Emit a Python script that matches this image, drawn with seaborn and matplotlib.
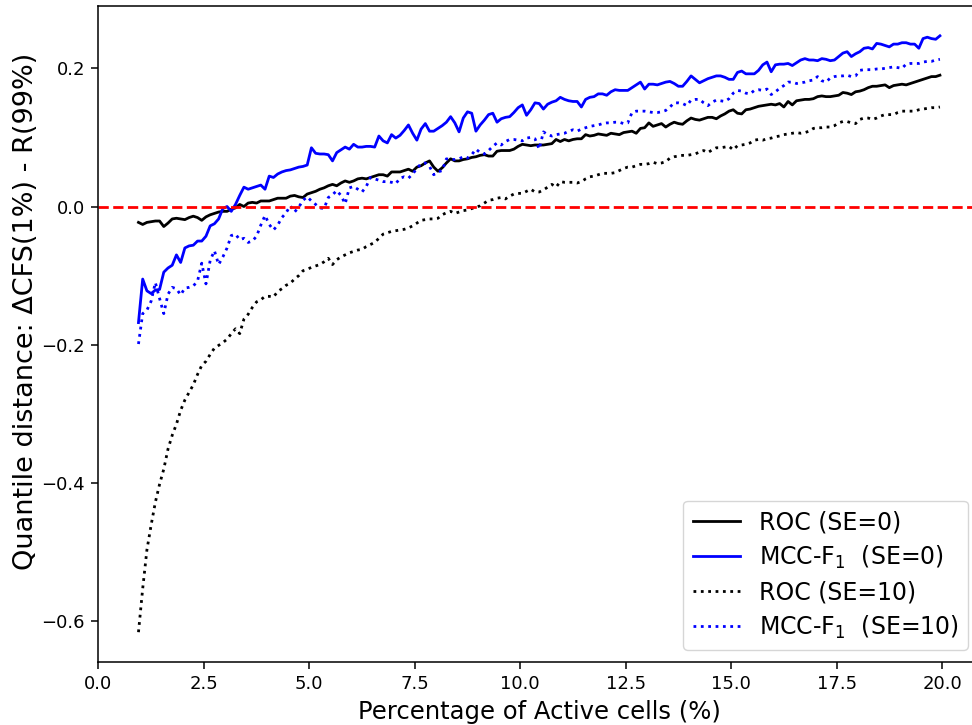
import numpy as np
import pandas as pd
import matplotlib
matplotlib.use("Agg")
import matplotlib.pyplot as plt
import seaborn as sns

# percentage of active cells, 0.95 .. 19.95 in steps of 0.1
pct = np.round(np.arange(95, 2000, 10) / 100, 2)

roc_se0 = [
    -0.023, -0.026, -0.023, -0.022, -0.021, -0.021, -0.029, -0.024, -0.018, -0.017,
    -0.018, -0.019, -0.016, -0.014, -0.016, -0.020, -0.015, -0.012, -0.010, -0.008,
    -0.007, -0.007, -0.004, -0.002, 0.003, 0.000, 0.005, 0.006, 0.005, 0.008,
    0.008, 0.008, 0.010, 0.012, 0.012, 0.012, 0.015, 0.016, 0.014, 0.013,
    0.018, 0.020, 0.022, 0.025, 0.027, 0.030, 0.032, 0.030, 0.034, 0.037,
    0.035, 0.037, 0.040, 0.041, 0.040, 0.042, 0.044, 0.046, 0.046, 0.044,
    0.050, 0.050, 0.050, 0.052, 0.054, 0.051, 0.057, 0.059, 0.063, 0.066,
    0.057, 0.051, 0.056, 0.063, 0.069, 0.066, 0.066, 0.068, 0.069, 0.071,
    0.072, 0.074, 0.075, 0.073, 0.073, 0.080, 0.081, 0.081, 0.081, 0.083,
    0.087, 0.090, 0.089, 0.088, 0.089, 0.089, 0.089, 0.090, 0.091, 0.097,
    0.094, 0.097, 0.095, 0.097, 0.098, 0.098, 0.104, 0.102, 0.103, 0.105,
    0.104, 0.103, 0.106, 0.105, 0.104, 0.107, 0.108, 0.109, 0.106, 0.113,
    0.114, 0.121, 0.116, 0.118, 0.120, 0.115, 0.119, 0.122, 0.120, 0.119,
    0.124, 0.128, 0.126, 0.125, 0.127, 0.129, 0.129, 0.127, 0.131, 0.134,
    0.138, 0.140, 0.135, 0.134, 0.140, 0.141, 0.143, 0.145, 0.146, 0.147,
    0.148, 0.147, 0.149, 0.144, 0.152, 0.147, 0.153, 0.154, 0.155, 0.155,
    0.156, 0.159, 0.160, 0.159, 0.159, 0.160, 0.161, 0.165, 0.164, 0.162,
    0.166, 0.167, 0.169, 0.172, 0.174, 0.174, 0.175, 0.176, 0.172, 0.175,
    0.176, 0.177, 0.176, 0.178, 0.180, 0.182, 0.184, 0.186, 0.188, 0.188,
    0.190,
]

mcc_se0 = [
    -0.168, -0.105, -0.122, -0.126, -0.121, -0.120, -0.095, -0.089, -0.085, -0.070,
    -0.081, -0.060, -0.057, -0.056, -0.050, -0.050, -0.043, -0.028, -0.025, -0.018,
    -0.003, 0.000, -0.007, 0.003, 0.016, 0.028, 0.025, 0.027, 0.029, 0.031,
    0.025, 0.044, 0.042, 0.047, 0.050, 0.052, 0.053, 0.055, 0.057, 0.058,
    0.060, 0.085, 0.077, 0.076, 0.076, 0.075, 0.066, 0.078, 0.082, 0.086,
    0.083, 0.090, 0.086, 0.086, 0.087, 0.087, 0.086, 0.102, 0.095, 0.092,
    0.104, 0.099, 0.103, 0.110, 0.118, 0.106, 0.096, 0.112, 0.120, 0.109,
    0.109, 0.113, 0.117, 0.122, 0.130, 0.121, 0.108, 0.128, 0.137, 0.135,
    0.109, 0.118, 0.125, 0.133, 0.135, 0.122, 0.127, 0.129, 0.130, 0.136,
    0.143, 0.147, 0.132, 0.140, 0.150, 0.149, 0.141, 0.148, 0.151, 0.153,
    0.158, 0.155, 0.153, 0.152, 0.152, 0.144, 0.155, 0.158, 0.159, 0.163,
    0.163, 0.161, 0.166, 0.169, 0.168, 0.168, 0.168, 0.172, 0.176, 0.180,
    0.170, 0.177, 0.177, 0.176, 0.178, 0.180, 0.181, 0.178, 0.174, 0.174,
    0.181, 0.189, 0.184, 0.179, 0.182, 0.185, 0.187, 0.189, 0.189, 0.187,
    0.184, 0.184, 0.194, 0.196, 0.192, 0.192, 0.192, 0.197, 0.205, 0.209,
    0.195, 0.205, 0.206, 0.206, 0.207, 0.204, 0.208, 0.212, 0.214, 0.212,
    0.212, 0.211, 0.214, 0.213, 0.211, 0.212, 0.217, 0.222, 0.224, 0.217,
    0.221, 0.224, 0.229, 0.230, 0.228, 0.236, 0.235, 0.233, 0.231, 0.235,
    0.235, 0.237, 0.237, 0.235, 0.235, 0.229, 0.243, 0.245, 0.243, 0.242,
    0.247,
]

roc_se10 = [
    -0.616, -0.553, -0.497, -0.461, -0.428, -0.402, -0.380, -0.351, -0.331, -0.315,
    -0.295, -0.280, -0.269, -0.258, -0.243, -0.230, -0.224, -0.214, -0.205, -0.201,
    -0.197, -0.192, -0.184, -0.177, -0.184, -0.163, -0.156, -0.146, -0.138, -0.135,
    -0.130, -0.130, -0.131, -0.123, -0.119, -0.114, -0.111, -0.105, -0.100, -0.093,
    -0.091, -0.088, -0.086, -0.084, -0.080, -0.075, -0.084, -0.077, -0.073, -0.070,
    -0.067, -0.065, -0.063, -0.062, -0.058, -0.055, -0.052, -0.046, -0.040, -0.038,
    -0.036, -0.035, -0.034, -0.033, -0.031, -0.028, -0.024, -0.020, -0.019, -0.018,
    -0.018, -0.017, -0.012, -0.009, -0.007, -0.010, -0.008, -0.006, -0.005, -0.003,
    -0.001, 0.001, 0.005, 0.009, 0.010, 0.012, 0.013, 0.011, 0.015, 0.018,
    0.019, 0.019, 0.022, 0.025, 0.021, 0.021, 0.024, 0.028, 0.032, 0.028,
    0.036, 0.035, 0.035, 0.035, 0.034, 0.036, 0.040, 0.043, 0.044, 0.046,
    0.048, 0.048, 0.048, 0.049, 0.052, 0.055, 0.057, 0.057, 0.059, 0.061,
    0.061, 0.062, 0.064, 0.062, 0.063, 0.065, 0.070, 0.072, 0.073, 0.074,
    0.074, 0.075, 0.076, 0.079, 0.081, 0.078, 0.082, 0.085, 0.085, 0.086,
    0.087, 0.082, 0.088, 0.089, 0.090, 0.092, 0.096, 0.097, 0.096, 0.098,
    0.099, 0.101, 0.102, 0.104, 0.105, 0.106, 0.107, 0.106, 0.107, 0.109,
    0.113, 0.114, 0.114, 0.115, 0.115, 0.117, 0.121, 0.123, 0.123, 0.121,
    0.120, 0.126, 0.128, 0.128, 0.126, 0.128, 0.131, 0.133, 0.133, 0.133,
    0.136, 0.138, 0.138, 0.138, 0.138, 0.140, 0.141, 0.142, 0.143, 0.143,
    0.144,
]

mcc_se10 = [
    -0.199, -0.155, -0.150, -0.137, -0.110, -0.133, -0.155, -0.127, -0.117, -0.119,
    -0.128, -0.118, -0.117, -0.115, -0.108, -0.082, -0.112, -0.078, -0.064, -0.084,
    -0.073, -0.060, -0.042, -0.040, -0.048, -0.046, -0.052, -0.050, -0.043, -0.027,
    -0.013, -0.026, -0.034, -0.027, -0.016, -0.009, 0.001, -0.008, -0.001, 0.009,
    0.014, 0.008, 0.003, -0.002, -0.003, 0.013, 0.017, 0.023, 0.016, 0.004,
    0.027, 0.029, 0.025, 0.021, 0.029, 0.042, 0.040, 0.038, 0.036, 0.036,
    0.035, 0.033, 0.041, 0.043, 0.041, 0.047, 0.055, 0.062, 0.063, 0.058,
    0.046, 0.050, 0.052, 0.069, 0.068, 0.068, 0.069, 0.072, 0.070, 0.075,
    0.083, 0.078, 0.076, 0.081, 0.087, 0.092, 0.089, 0.094, 0.097, 0.097,
    0.096, 0.095, 0.099, 0.100, 0.098, 0.083, 0.108, 0.104, 0.102, 0.104,
    0.105, 0.106, 0.109, 0.111, 0.109, 0.112, 0.114, 0.116, 0.117, 0.118,
    0.120, 0.121, 0.121, 0.122, 0.122, 0.120, 0.121, 0.136, 0.138, 0.138,
    0.138, 0.137, 0.136, 0.136, 0.137, 0.139, 0.144, 0.150, 0.150, 0.149,
    0.146, 0.154, 0.155, 0.155, 0.150, 0.146, 0.151, 0.154, 0.153, 0.152,
    0.156, 0.164, 0.168, 0.167, 0.164, 0.163, 0.168, 0.169, 0.168, 0.170,
    0.162, 0.166, 0.171, 0.175, 0.180, 0.180, 0.178, 0.179, 0.180, 0.182,
    0.183, 0.188, 0.182, 0.180, 0.186, 0.188, 0.189, 0.189, 0.190, 0.188,
    0.189, 0.197, 0.198, 0.198, 0.198, 0.199, 0.199, 0.200, 0.201, 0.202,
    0.201, 0.200, 0.206, 0.207, 0.207, 0.207, 0.209, 0.210, 0.210, 0.212,
    0.213,
]

series = [
    ("ROC (SE=0)", roc_se0, "black", "-"),
    ("MCC-F$_1$  (SE=0)", mcc_se0, "blue", "-"),
    ("ROC (SE=10)", roc_se10, "black", ":"),
    ("MCC-F$_1$  (SE=10)", mcc_se10, "blue", ":"),
]

fig = plt.figure(figsize=(9.72, 7.25), dpi=100)
# axes run slightly past the right edge, like the cropped original
ax = fig.add_axes([98.4 / 972, 63 / 725, (980 - 98.4) / 972, (719 - 63) / 725])

for name, vals, color, ls in series:
    df = pd.DataFrame({"pct": pct, "dist": vals})
    sns.lineplot(data=df, x="pct", y="dist", ax=ax, color=color,
                 linestyle=ls, linewidth=2, label=name)

ax.axhline(0, color="red", linestyle="--", linewidth=2)

ax.set_xlabel("Percentage of Active cells (%)", fontsize=17.5, labelpad=5)
ax.set_ylabel("Quantile distance: \u0394CFS(1%) - R(99%)", fontsize=19.5, labelpad=2)
ax.yaxis.label.set_y(0.535)
ax.tick_params(axis="both", labelsize=13, length=4.8, width=1.1, pad=4.8)
for sp in ax.spines.values():
    sp.set_linewidth(1.1)
ax.legend(loc="lower right", fontsize=17, labelspacing=0.4)

fig.savefig("out.png", dpi=100)
